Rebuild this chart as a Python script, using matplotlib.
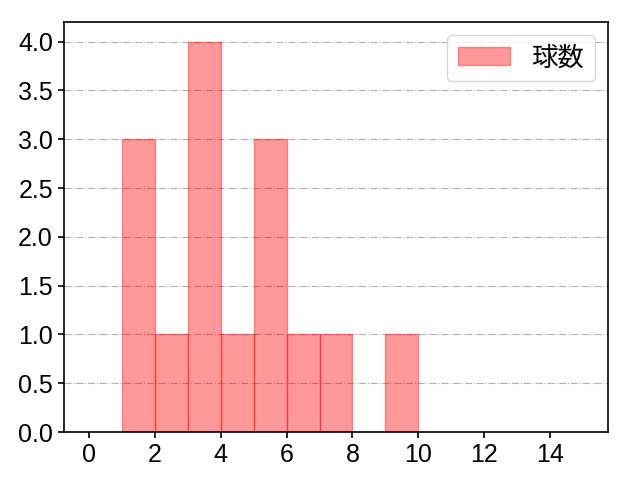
import matplotlib
matplotlib.use('Agg')
import matplotlib.pyplot as plt
import numpy as np

plt.rcParams['font.family'] = ['Liberation Sans', 'Noto Sans CJK JP']

# histogram bins (width 1) and counts
bin_edges = [1, 2, 3, 4, 5, 6, 7, 8, 9, 10]
counts = [3, 1, 4, 1, 3, 1, 1, 0, 1]
label = '球数'
x_ticks = [0, 2, 4, 6, 8, 10, 12, 14]

fig = plt.figure(figsize=(6.4, 4.8), dpi=100)
ax = fig.add_axes([0.1, 0.1, 0.85, 0.854])

ax.hist(bin_edges[:-1], bins=bin_edges, weights=counts,
        color='red', alpha=0.4, edgecolor='red', linewidth=1, label=label)

ax.set_xlim(-0.75, 15.75)
ax.set_ylim(0, 4.2)
ax.set_xticks(x_ticks)
ax.set_yticks(np.arange(0, 4.01, 0.5))
ax.yaxis.grid(True, linestyle='-.', color='#b0b0b0', linewidth=0.8)
ax.set_axisbelow(True)
ax.tick_params(labelsize=18, length=4.5, width=1.2)
for s in ax.spines.values():
    s.set_linewidth(1.2)

ax.legend(loc='upper right', fontsize=19)

fig.savefig('out.png', dpi=100)
